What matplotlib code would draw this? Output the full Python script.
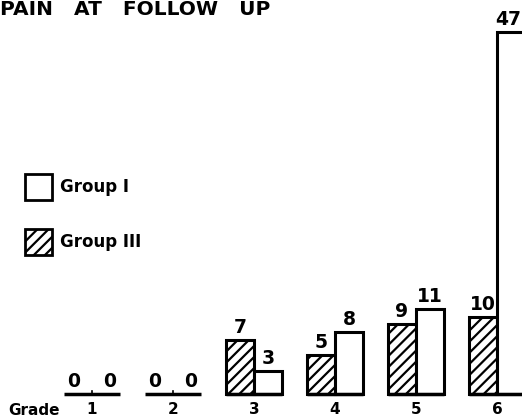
import matplotlib
matplotlib.use("Agg")
import matplotlib.pyplot as plt
from matplotlib.patches import Patch

grades = ["1", "2", "3", "4", "5", "6"]
group_iii = [0, 0, 7, 5, 9, 10]
group_i = [0, 0, 3, 8, 11, 47]
title = "PAIN   AT   FOLLOW   UP"

plt.rcParams['font.family'] = ['DejaVu Sans']
plt.rcParams['hatch.linewidth'] = 1.6

fig = plt.figure(figsize=(5.22, 4.2), dpi=100)
ax = fig.add_axes([0, 0, 1, 1])
ax.set_xlim(-0.136, 6.309)
ax.set_ylim(-3.4, 51.1)
ax.axis('off')

w = 0.345
xs = list(range(1, len(grades) + 1))
for i, x in enumerate(xs):
    if group_iii[i] > 0:
        ax.bar(x - w / 2, group_iii[i], width=w, color='white', edgecolor='black',
               hatch='///', linewidth=2.2)
    if group_i[i] > 0:
        ax.bar(x + w / 2, group_i[i], width=w, color='white', edgecolor='black',
               linewidth=2.2)
    ax.plot([x - w, x + w], [0, 0], color='black', linewidth=2.5, solid_capstyle='butt')
    if group_iii[i] == 0 and group_i[i] == 0:
        ax.plot([x, x], [0, 0.35], color='black', linewidth=1.2)
        dx = 0.05
    else:
        dx = 0.0
    ax.text(x - w / 2 - dx, group_iii[i] + 0.4, str(group_iii[i]), ha='center', va='bottom',
            fontsize=13.5, fontweight='bold')
    lx = x + w / 2 + dx
    if i == len(xs) - 1:
        lx -= 0.03
    ax.text(lx, group_i[i] + 0.4, str(group_i[i]), ha='center', va='bottom',
            fontsize=13.5, fontweight='bold')
    ax.text(x, -1.1, grades[i], ha='center', va='top', fontsize=11, fontweight='bold')

ax.text(8 / 522, 1 - 403 / 420, "Grade", ha='left', va='top', fontsize=11,
        fontweight='bold', transform=fig.transFigure)

fig.text(0.0, 1.0, title, ha='left', va='top', fontsize=14.5, fontweight='bold')

handles = [Patch(facecolor='white', edgecolor='black', linewidth=2),
           Patch(facecolor='white', edgecolor='black', hatch='///', linewidth=2)]
fig.legend(handles, ["Group I", "Group III"], loc='upper left',
           bbox_to_anchor=(25 / 522, 1 - 174 / 420), frameon=False,
           handlelength=1.6, handleheight=2.0, labelspacing=1.75,
           handletextpad=0.5, borderaxespad=0, borderpad=0,
           prop={'size': 12, 'weight': 'bold'})

fig.savefig("out.png", dpi=100)
